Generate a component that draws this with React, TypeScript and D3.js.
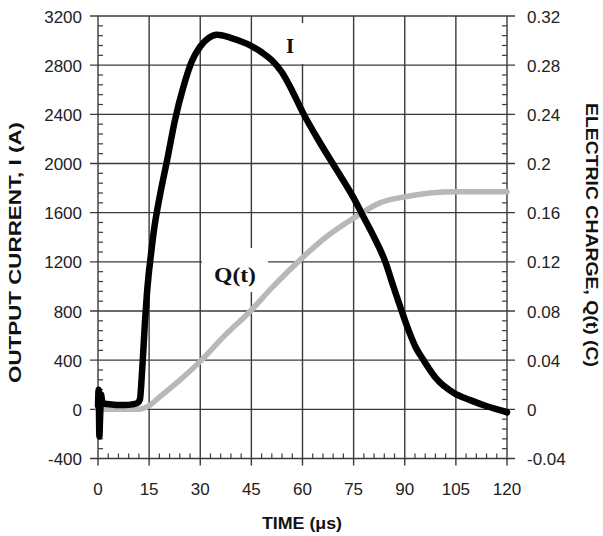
import React from "react";
import * as d3 from "d3";

const timeI = [0, 0.2, 0.4, 0.6, 0.9, 1.3, 2, 4, 6, 8, 10, 11.5, 12.3, 12.8, 13.3, 13.8, 14.3, 14.8, 15.5, 16.3, 18.3, 20.3, 22.6, 25.1, 27.5, 30, 32.4, 34.9, 38.7, 43.6, 48, 51, 54, 57, 60, 65, 70, 75, 78, 81, 84.3, 86.6, 89.1, 91.3, 93.2, 95.4, 99.4, 104.3, 109.2, 114.1, 119, 120];
const currentI = [30, 160, -220, -80, 120, 50, 45, 40, 35, 35, 40, 50, 80, 250, 480, 720, 920, 1080, 1250, 1434, 1759, 2030, 2355, 2627, 2830, 2952, 3020, 3047, 3025, 2975, 2905, 2840, 2740, 2590, 2420, 2175, 1950, 1720, 1560, 1400, 1200, 1005, 800, 630, 505, 405, 245, 135, 75, 25, -15, -25];

const timeQ = [0, 10, 12, 15, 18.2, 24.1, 30, 36.8, 44.6, 51.4, 59.3, 67.1, 75, 82.7, 90.2, 97.4, 105, 112, 120];
const chargeQ = [0, 0, 0, 0.003, 0.0104, 0.024, 0.039, 0.059, 0.0796, 0.1, 0.1216, 0.1406, 0.1556, 0.168, 0.173, 0.176, 0.177, 0.177, 0.177];

const xTicks = [0, 15, 30, 45, 60, 75, 90, 105, 120];
const leftTicks = [-400, 0, 400, 800, 1200, 1600, 2000, 2400, 2800, 3200];
const rightTicks = [-0.04, 0, 0.04, 0.08, 0.12, 0.16, 0.2, 0.24, 0.28, 0.32];
const rightTickLabels = ["-0.04", "0", "0.04", "0.08", "0.12", "0.16", "0.2", "0.24", "0.28", "0.32"];

const W = 603, H = 536;
const L = 98, R = 507, T = 16, B = 458.5;
const font = "'Liberation Sans', Arial, sans-serif";
const serif = "'Liberation Serif', 'Times New Roman', serif";
const gridColor = "#3a3a3a";

export default function App() {
  const x = d3.scaleLinear().domain([0, 120]).range([L, R]);
  const yL = d3.scaleLinear().domain([-400, 3200]).range([B, T]);
  const yR = d3.scaleLinear().domain([-0.04, 0.32]).range([B, T]);

  const lineI = d3.line<number>().x((_, i) => x(timeI[i])).y((d) => yL(d)).curve(d3.curveMonotoneX);
  const lineQ = d3.line<number>().x((_, i) => x(timeQ[i])).y((d) => yR(d)).curve(d3.curveMonotoneX);

  const minorX = d3.range(0, 121, 3).filter((v) => v % 15 !== 0);
  const minorL = d3.range(-400, 3201, 80).filter((v) => v % 400 !== 0);

  return (
    <svg width={W} height={H} style={{ position: "absolute", left: 0, top: 0, background: "#fff" }}>
      <rect x={0} y={0} width={W} height={H} fill="#fff" />
      {/* grid */}
      {xTicks.map((t) => (
        <line key={"gx" + t} x1={x(t)} x2={x(t)} y1={T} y2={B + 7} stroke={gridColor} strokeWidth={1.4} />
      ))}
      {leftTicks.map((t) => (
        <line key={"gy" + t} x1={L - 8} x2={R + 8} y1={yL(t)} y2={yL(t)} stroke={gridColor} strokeWidth={1.4} />
      ))}
      {/* minor ticks */}
      {minorX.map((t) => (
        <line key={"mx" + t} x1={x(t)} x2={x(t)} y1={B} y2={B - 5} stroke={gridColor} strokeWidth={1.2} />
      ))}
      {minorL.map((t) => (
        <g key={"ml" + t}>
          <line x1={L} x2={L + 5} y1={yL(t)} y2={yL(t)} stroke={gridColor} strokeWidth={1.2} />
          <line x1={R} x2={R - 5} y1={yL(t)} y2={yL(t)} stroke={gridColor} strokeWidth={1.2} />
        </g>
      ))}
      {/* label boxes */}
      <rect x={276} y={23} width={34} height={41} fill="#fff" />
      <rect x={202} y={248} width={66} height={44} fill="#fff" />
      {/* curves */}
      <path d={lineQ(chargeQ) || ""} fill="none" stroke="#b8b8b8" strokeWidth={5.5} strokeLinejoin="round" strokeLinecap="round" />
      <path d={lineI(currentI) || ""} fill="none" stroke="#000" strokeWidth={6.5} strokeLinejoin="round" strokeLinecap="round" />
      {/* tick labels */}
      {leftTicks.map((t) => (
        <text key={"tl" + t} x={82} y={yL(t) + 6.5} textAnchor="end" fontFamily={font} fontSize={17} fill="#222">{t}</text>
      ))}
      {rightTicks.map((t, i) => (
        <text key={"tr" + t} x={527} y={yR(t) + 6.5} textAnchor="start" fontFamily={font} fontSize={17} fill="#222">{rightTickLabels[i]}</text>
      ))}
      {xTicks.map((t) => (
        <text key={"tx" + t} x={x(t)} y={495} textAnchor="middle" fontFamily={font} fontSize={17} fill="#222">{t}</text>
      ))}
      {/* titles */}
      <text x={302} y={529} textAnchor="middle" fontFamily={font} fontSize={16} fontWeight="bold" fill="#111" textLength={80} lengthAdjust="spacingAndGlyphs">TIME (μs)</text>
      <text transform={`translate(21,252.5) rotate(-90)`} textAnchor="middle" fontFamily={font} fontSize={16} fontWeight="bold" fill="#111" textLength={261} lengthAdjust="spacingAndGlyphs">OUTPUT CURRENT, I (A)</text>
      <text transform={`translate(586,235) rotate(90)`} textAnchor="middle" fontFamily={font} fontSize={16} fontWeight="bold" fill="#111" textLength={264} lengthAdjust="spacingAndGlyphs">ELECTRIC CHARGE, Q(t) (C)</text>
      {/* series labels */}
      <text x={290} y={53} textAnchor="middle" fontFamily={serif} fontSize={21} fontWeight="bold" fill="#111">I</text>
      <text x={235} y={281.5} textAnchor="middle" fontFamily={serif} fontSize={21} fontWeight="bold" fill="#111" textLength={42} lengthAdjust="spacingAndGlyphs">Q(t)</text>
    </svg>
  );
}
